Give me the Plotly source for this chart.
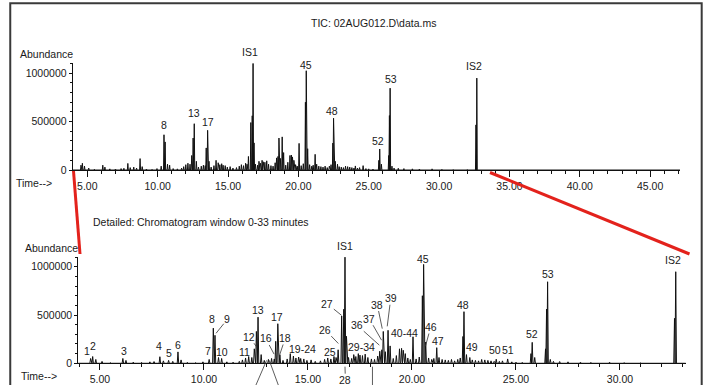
import plotly.graph_objects as go

# ---------------- data: retention time (min) and abundance ----------------
major_times = [4.55, 4.65, 4.80, 6.10, 6.25, 7.88, 8.30, 8.75, 10.25, 10.45, 10.53, 10.85,
               12.00, 12.15, 12.42, 12.52, 12.60, 13.45, 13.55, 13.65, 14.15,
               16.45, 16.62, 16.72, 16.78, 16.85,
               18.45, 18.55, 18.62, 18.85, 18.95, 19.40, 19.50, 20.05, 20.50, 20.56, 20.66,
               21.19, 22.45, 22.50, 22.78, 24.05, 24.60, 25.72, 25.78, 26.42, 26.47, 26.52,
               32.62, 32.68]
major_heights = [50000, 70000, 40000, 50000, 30000, 68000, 30000, 118000, 40000, 364000, 290000, 50000,
                 55000, 70000, 150000, 330000, 478000, 228000, 410000, 90000, 100000,
                 140000, 490000, 560000, 1100000, 280000,
                 125000, 140000, 330000, 342000, 180000, 150000, 155000, 275000, 700000, 1025000, 220000,
                 162000, 278000, 535000, 60000, 42000, 45000, 100000, 217000, 150000, 562000, 845000,
                 466000, 949000]

minor_times = [5.10, 5.50, 6.60, 7.00, 7.40, 7.60, 8.05, 8.50, 8.90, 9.20, 9.60, 9.95, 10.70,
               11.10, 11.40, 11.70, 11.85, 12.30, 12.75, 12.90, 13.10, 13.25, 13.38, 13.80,
               14.00, 14.30, 14.42, 14.55, 14.65, 14.80, 14.95, 15.15, 15.35, 15.60, 15.80,
               15.95, 16.10, 16.25, 16.35, 16.95, 17.10, 17.20, 17.30, 17.42, 17.50, 17.62,
               17.75, 17.88, 18.05, 18.20, 18.35, 18.72, 19.10, 19.25, 19.58, 19.68, 19.80,
               19.92, 20.20, 20.35, 20.80, 20.95, 21.05, 21.30, 21.45, 21.60, 21.75, 21.90,
               22.05, 22.20, 22.32, 22.62, 22.90, 23.05, 23.20, 23.35, 23.50, 23.65, 23.80,
               23.95, 24.20, 24.35, 24.80, 25.00, 25.30, 25.90, 26.65, 26.80, 27.10, 27.50,
               28.10, 28.60, 29.50, 30.20, 31.00, 32.00, 33.50]
minor_heights = [20000, 8000, 12000, 10000, 15000, 18000, 25000, 20000, 35000, 10000, 8000, 15000, 60000,
                 15000, 12000, 20000, 35000, 60000, 90000, 30000, 40000, 50000, 45000, 30000,
                 45000, 75000, 55000, 65000, 50000, 45000, 30000, 35000, 20000, 25000, 40000,
                 55000, 45000, 70000, 60000, 60000, 50000, 90000, 70000, 100000, 85000, 80000,
                 95000, 60000, 45000, 40000, 75000, 120000, 50000, 80000, 135000, 100000, 55000,
                 40000, 45000, 65000, 55000, 40000, 50000, 60000, 40000, 35000, 30000, 40000,
                 25000, 40000, 55000, 90000, 35000, 30000, 25000, 40000, 35000, 30000, 25000,
                 20000, 20000, 25000, 15000, 12000, 10000, 60000, 40000, 20000, 18000, 15000,
                 12000, 10000, 12000, 8000, 6000, 6000, 6000]

# peak labels: (text, time, abundance of label centre)
top_labels = [("8", 10.45, 466000), ("13", 12.58, 590000), ("17", 13.58, 497000),
              ("IS1", 16.58, 1218000), ("45", 20.57, 1087000), ("48", 22.37, 611000),
              ("52", 25.64, 303000), ("53", 26.56, 942000), ("IS2", 32.49, 1069000)]
bottom_labels = [("1", 4.39, 129000), ("2", 4.68, 181000), ("3", 6.15, 126000), ("4", 7.85, 181000),
                 ("5", 8.32, 103000), ("6", 8.76, 185000), ("7", 10.21, 129000), ("8", 10.40, 455000),
                 ("10", 10.85, 113000), ("11", 11.95, 122000), ("13", 12.61, 554000),
                 ("17", 13.52, 478000), ("19-24", 14.72, 148000), ("25", 16.06, 119000),
                 ("IS1", 16.76, 1215000), ("29-34", 17.58, 170000), ("40-44", 19.63, 318000),
                 ("45", 20.54, 1082000), ("47", 21.26, 232000), ("48", 22.46, 604000),
                 ("49", 22.87, 170000), ("50", 23.99, 137000), ("51", 24.63, 137000),
                 ("52", 25.75, 301000), ("53", 26.52, 930000), ("IS2", 32.57, 1068000)]
# labels with leader lines: (text, label time, label abundance, pointed time, pointed abundance)
leader_labels = [("9", 11.12, 455000, 10.58, 311000), ("12", 12.18, 275000, 12.53, 170000),
                 ("16", 12.97, 257000, 13.37, 95000), ("18", 13.91, 262000, 13.65, 95000),
                 ("26", 15.82, 349000, 16.46, 205000), ("27", 15.93, 616000, 16.62, 496000),
                 ("28", 16.80, -175000, 16.78, -35000), ("35", 18.10, -300000, 18.10, -35000),
                 ("14", 12.35, -300000, 13.01, 30000), ("15", 13.70, -300000, 13.14, 30000),
                 ("36", 17.37, 393000, 18.43, 188000), ("37", 17.95, 462000, 18.54, 239000),
                 ("38", 18.33, 609000, 18.57, 359000), ("39", 18.98, 674000, 18.81, 383000),
                 ("46", 20.90, 376000, 20.65, 178000)]

Y_MAX = 1105000
HALF_W = 0.035
INK = "#111111"
FONT = dict(family="Liberation Sans, Arial, sans-serif", size=10.5, color="#1a1a1a")

# ---------------- build chromatogram polyline ----------------
peaks = sorted(zip(major_times + minor_times, major_heights + minor_heights))
xs, ys = [3.8], [0]
for t, h in peaks:
    xs += [t - HALF_W, t, t + HALF_W]
    ys += [0, h, 0]
xs.append(47.5)
ys.append(0)

fig = go.Figure()
line_style = dict(color=INK, width=1)
fig.add_trace(go.Scatter(x=xs, y=ys, mode="lines", line=line_style, xaxis="x", yaxis="y",
                         hoverinfo="skip", showlegend=False))
fig.add_trace(go.Scatter(x=xs, y=ys, mode="lines", line=line_style, xaxis="x2", yaxis="y2",
                         hoverinfo="skip", showlegend=False))


def xaxis_style(rng, domain, anchor):
    return dict(range=rng, domain=domain, anchor=anchor, showline=True, linecolor=INK, linewidth=1,
                ticks="outside", ticklen=6, tickcolor=INK, tickwidth=1, tick0=0, dtick=5,
                tickformat=".2f", showgrid=False, zeroline=False, tickfont=FONT, automargin=False,
                minor=dict(dtick=1, ticks="outside", ticklen=3, tickcolor=INK, showgrid=False))


def yaxis_style(domain, anchor):
    return dict(range=[0, Y_MAX], domain=domain, anchor=anchor, showline=True, linecolor=INK,
                linewidth=1, ticks="outside", ticklen=3, tickcolor=INK, tickwidth=1, tick0=0,
                dtick=500000, tickformat="d", showgrid=False, zeroline=False, tickfont=FONT,
                automargin=False,
                minor=dict(dtick=100000, ticks="outside", ticklen=2, tickcolor=INK, showgrid=False))


CENTER = dict(xanchor="center", yanchor="middle")
annotations = []
for txt, t, v in top_labels:
    annotations.append(dict(text=txt, x=t, y=v / Y_MAX, xref="x", yref="y domain",
                            showarrow=False, font=FONT, borderpad=0, **CENTER))
for txt, t, v in bottom_labels:
    annotations.append(dict(text=txt, x=t, y=v / Y_MAX, xref="x2", yref="y2 domain",
                            showarrow=False, font=FONT, borderpad=0, **CENTER))
for txt, lt, lv, ht, hv in leader_labels:
    annotations.append(dict(text=txt, x=ht, y=hv / Y_MAX, xref="x2", yref="y2 domain",
                            ax=lt, ay=lv / Y_MAX, axref="x2", ayref="y2 domain",
                            showarrow=True, arrowhead=0, arrowwidth=0.8, arrowcolor="#333333",
                            standoff=0, font=FONT, borderpad=0, **CENTER))

for xr, yr in (("x domain", "y domain"), ("x2 domain", "y2 domain")):
    annotations.append(dict(text="Abundance", x=0, y=1, xref=xr, yref=yr, xanchor="right",
                            yanchor="middle", yshift=9, xshift=2, showarrow=False, font=FONT))
    annotations.append(dict(text="Time-->", x=0, y=0, xref=xr, yref=yr, xanchor="right",
                            yanchor="middle", yshift=-13, xshift=-19, showarrow=False, font=FONT))

annotations += [
    dict(text="TIC: 02AUG012.D\\data.ms", x=0.528, y=0.941, xref="paper", yref="paper",
         showarrow=False, font=FONT, **CENTER),
    dict(text="Detailed:", x=0.129, y=0.424, xref="paper", yref="paper", xanchor="left",
         yanchor="middle", showarrow=False, font=FONT),
    dict(text="Chromatogram window 0-33 minutes", x=0.191, y=0.424, xref="paper", yref="paper",
         xanchor="left", yanchor="middle", showarrow=False, font=FONT),
    dict(text="13", x=0.935, y=-0.014, xref="paper", yref="paper", showarrow=False,
         font=dict(family="Liberation Sans, Arial", size=13, color="#2a6fc9"), **CENTER),
]

shapes = [
    dict(type="rect", xref="paper", yref="paper", x0=0.0145, x1=0.9925, y0=-0.2, y1=0.9915,
         line=dict(color="#3a3a3a", width=2)),
    dict(type="line", xref="paper", yref="paper", x0=73.5 / 707, y0=1 - 171 / 385,
         x1=80 / 707, y1=1 - 254 / 385, line=dict(color="#e3221c", width=3)),
    dict(type="line", xref="paper", yref="paper", x0=490 / 707, y0=1 - 172.5 / 385,
         x1=689.5 / 707, y1=1 - 254 / 385, line=dict(color="#e3221c", width=3)),
]

fig.update_layout(
    width=707, height=385, margin=dict(l=0, r=0, t=0, b=0, pad=0, autoexpand=False),
    paper_bgcolor="white", plot_bgcolor="white", showlegend=False,
    xaxis=xaxis_style([3.96, 47.12], [0.1028, 0.9618], "y"),
    yaxis=yaxis_style([0.5584, 0.8364], "x"),
    xaxis2=xaxis_style([3.957, 33.16], [0.1107, 0.9699], "y2"),
    yaxis2=yaxis_style([0.0564, 0.3333], "x2"),
    annotations=annotations, shapes=shapes,
)

fig.write_html("out.html")
